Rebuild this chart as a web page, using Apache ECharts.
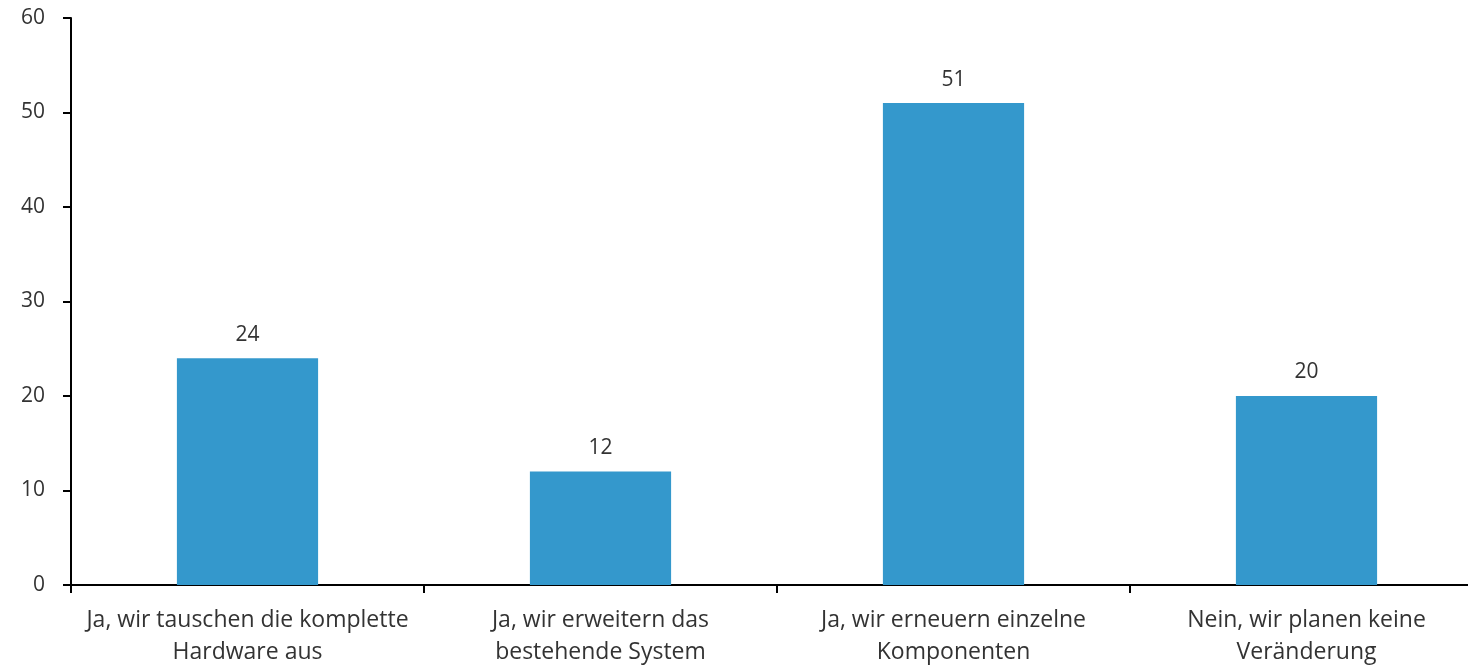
<!DOCTYPE html>
<html><head><meta charset="utf-8">
<script src="https://cdn.jsdelivr.net/npm/echarts@6/dist/echarts.min.js"></script>
<style>html,body{margin:0;padding:0;background:#fff;overflow:hidden}#c{width:1468px;height:667px}</style>
</head><body><div id="c"></div>
<script>
const categories = ["Ja, wir tauschen die komplette\nHardware aus","Ja, wir erweitern das\nbestehende System","Ja, wir erneuern einzelne\nKomponenten","Nein, wir planen keine\nVeränderung"];
const values = [24, 12, 51, 20];
const yTicks = {min: 0, max: 60, interval: 10};
const chart = echarts.init(document.getElementById('c'));
const font = "'Open Sans', 'Noto Sans', sans-serif";
chart.setOption({
  animation: false,
  grid: {left: 71, width: 1412, top: 18, height: 567, containLabel: false, outerBoundsMode: 'none'},
  xAxis: {
    type: 'category', data: categories,
    axisLine: {lineStyle: {color: '#000', width: 2}},
    axisTick: {show: true, length: 8, lineStyle: {color: '#000', width: 2}},
    axisLabel: {color: '#333', fontSize: 23, fontFamily: font, margin: 19, lineHeight: 32, interval: 0}
  },
  yAxis: {
    type: 'value', min: yTicks.min, max: yTicks.max, interval: yTicks.interval,
    axisLine: {show: true, lineStyle: {color: '#000', width: 2}},
    axisTick: {show: true, length: 8, lineStyle: {color: '#000', width: 2}},
    splitLine: {show: false},
    axisLabel: {color: '#333', fontSize: 21, fontFamily: font, margin: 26}
  },
  series: [{
    type: 'bar', data: values, barWidth: '40%',
    itemStyle: {color: '#3498cc'},
    label: {show: true, position: 'top', distance: 13, color: '#333', fontSize: 21, fontFamily: font}
  }]
});
</script></body></html>
